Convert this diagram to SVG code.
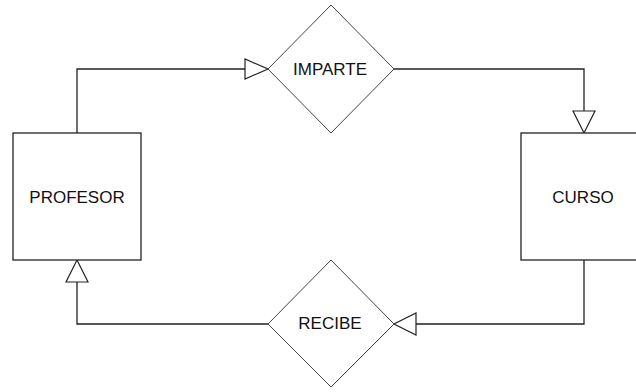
<svg xmlns="http://www.w3.org/2000/svg" width="636" height="392" viewBox="0 0 636 392">
<defs>
<style>
.box{fill:#fff;stroke:#222;stroke-width:1.3}
.dia{fill:#fff;stroke:#444;stroke-width:1}
.ln{fill:none;stroke:#222;stroke-width:1.3}
.ah{fill:#fff;stroke:#222;stroke-width:1.2}
.t{font-family:"Liberation Sans",Arial,sans-serif;font-size:17px;fill:#111;text-anchor:middle}
</style>
</defs>
<rect width="636" height="392" fill="#fff"/>
<g id="connectors">
<polyline class="ln" points="77,133 77,69 245,69"/>
<polygon class="ah" points="245,59 245,79 268,69"/>
<polyline class="ln" points="394,69 584,69 584,111"/>
<polygon class="ah" points="573,111 595,111 584,133"/>
<polyline class="ln" points="584,260 584,324 416,324"/>
<polygon class="ah" points="416,313 416,335 394,324"/>
<polyline class="ln" points="268,324 77,324 77,282"/>
<polygon class="ah" points="66,282 88,282 77,260"/>
</g>
<g id="profesor">
<rect class="box" x="13" y="133" width="128" height="127"/>
<text class="t" x="77" y="203">PROFESOR</text>
</g>
<g id="curso">
<rect class="box" x="521" y="133" width="126" height="127"/>
<text class="t" x="583" y="203">CURSO</text>
</g>
<g id="imparte">
<polygon class="dia" points="331,5 394,69 331,133 268,69"/>
<text class="t" x="330" y="75">IMPARTE</text>
</g>
<g id="recibe">
<polygon class="dia" points="331,260 394,324 331,387 268,324"/>
<text class="t" x="330" y="329">RECIBE</text>
</g>
</svg>
